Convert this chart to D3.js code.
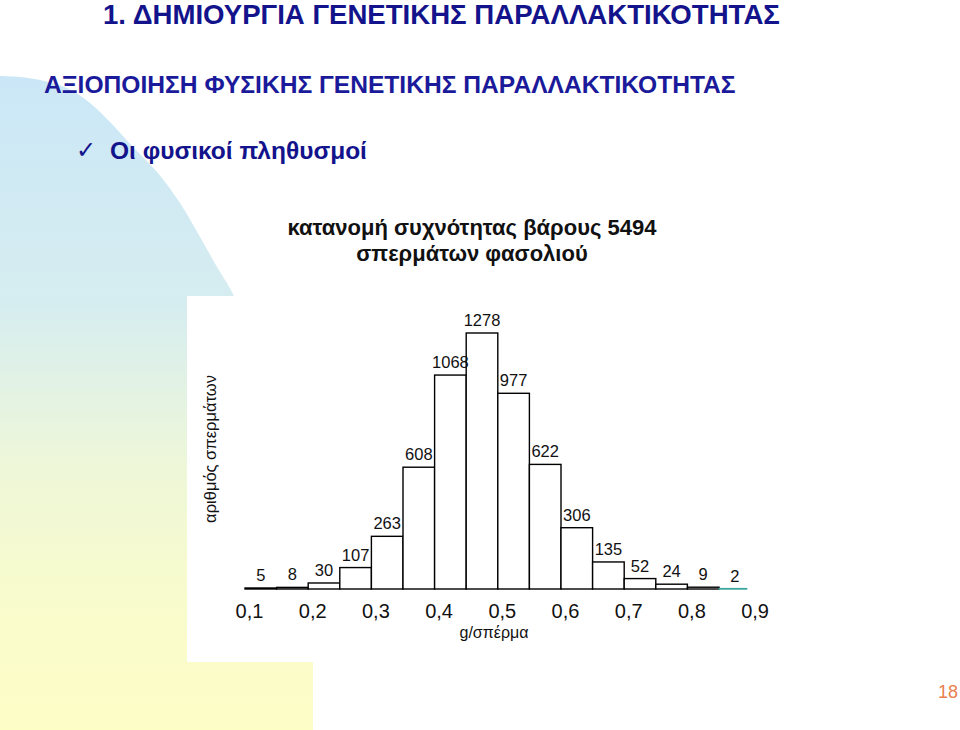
<!DOCTYPE html>
<html>
<head>
<meta charset="utf-8">
<script src="https://cdn.jsdelivr.net/npm/d3@7"></script>
<style>
  body { margin: 0; background: #fff; }
  svg { display: block; font-family: "Liberation Sans", Arial, sans-serif; }
</style>
</head>
<body>
<svg id="slide" width="960" height="730"></svg>
<script>
// data
var binStarts = [0.10, 0.15, 0.20, 0.25, 0.30, 0.35, 0.40, 0.45, 0.50, 0.55, 0.60, 0.65, 0.70, 0.75, 0.80, 0.85];
var counts    = [5, 8, 30, 107, 263, 608, 1068, 1278, 977, 622, 306, 135, 52, 24, 9, 2];
var binWidth  = 0.05;
var tickValues = [0.1, 0.2, 0.3, 0.4, 0.5, 0.6, 0.7, 0.8, 0.9];

var svg = d3.select("#slide");

// background: blue-to-yellow shape on the left
var defs = svg.append("defs");
var grad = defs.append("linearGradient")
    .attr("id", "bgGrad")
    .attr("gradientUnits", "userSpaceOnUse")
    .attr("x1", 0).attr("y1", 75).attr("x2", 0).attr("y2", 730);
grad.append("stop").attr("offset", "0%").attr("stop-color", "#cbe7f7");
grad.append("stop").attr("offset", "35%").attr("stop-color", "#d6edf0");
grad.append("stop").attr("offset", "60%").attr("stop-color", "#eef7d8");
grad.append("stop").attr("offset", "80%").attr("stop-color", "#f8fbcc");
grad.append("stop").attr("offset", "100%").attr("stop-color", "#fdfdc6");

var edge = [[0, 76], [20, 77], [40, 80], [67, 88], [90, 103], [110, 122], [133, 147], [157, 172],
            [180, 203], [200, 237], [217, 267], [233, 294], [255, 350], [280, 430], [300, 520], [313, 620]];
var edgePath = d3.line().curve(d3.curveCatmullRom)(edge);
svg.append("path")
    .attr("d", edgePath + "L313,730L0,730Z")
    .attr("fill", "url(#bgGrad)");

// white panel behind the chart
svg.append("rect")
    .attr("x", 187).attr("y", 296)
    .attr("width", 773).attr("height", 366)
    .attr("fill", "#fff");

// slide texts
svg.append("text")
    .attr("x", 103).attr("y", 23.5)
    .style("font-size", "27.6px").style("font-weight", "bold").style("fill", "#13138c")
    .text("1. ΔΗΜΙΟΥΡΓΙΑ ΓΕΝΕΤΙΚΗΣ ΠΑΡΑΛΛΑΚΤΙΚΟΤΗΤΑΣ");

svg.append("text")
    .attr("x", 44).attr("y", 93)
    .style("font-size", "24.6px").style("font-weight", "bold").style("fill", "#1a1a9a")
    .text("ΑΞΙΟΠΟΙΗΣΗ ΦΥΣΙΚΗΣ ΓΕΝΕΤΙΚΗΣ ΠΑΡΑΛΛΑΚΤΙΚΟΤΗΤΑΣ");

svg.append("text")
    .attr("x", 76).attr("y", 158)
    .style("font-family", "'DejaVu Sans', sans-serif")
    .style("font-size", "24px").style("fill", "#13138c")
    .text("✓");

svg.append("text")
    .attr("x", 110).attr("y", 159)
    .style("font-size", "24.5px").style("font-weight", "bold").style("fill", "#13138c")
    .text("Οι φυσικοί πληθυσμοί");

svg.append("text")
    .attr("x", 472).attr("y", 235)
    .attr("text-anchor", "middle")
    .style("font-size", "22px").style("font-weight", "bold").style("fill", "#111")
    .text("κατανομή συχνότητας βάρους 5494");

svg.append("text")
    .attr("x", 472).attr("y", 261)
    .attr("text-anchor", "middle")
    .style("font-size", "22px").style("font-weight", "bold").style("fill", "#111")
    .text("σπερμάτων φασολιού");

svg.append("text")
    .attr("x", 958).attr("y", 698)
    .attr("text-anchor", "end")
    .style("font-size", "18px").style("fill", "#e8804f")
    .text("18");

// histogram
var x = d3.scaleLinear().domain([0.1, 0.9]).range([245, 750.6]);
var y = d3.scaleLinear().domain([0, d3.max(counts)]).range([589, 333]);

var bins = binStarts.map(function(s, i) { return {x0: s, x1: s + binWidth, value: counts[i], last: i === counts.length - 1}; });

var chart = svg.append("g");

chart.selectAll(".bar")
    .data(bins)
    .enter().append("rect")
    .attr("class", "bar")
    .attr("x", d => x(d.x0))
    .attr("width", d => x(d.x1) - x(d.x0) - (d.last ? 4 : 0))
    .attr("y", d => y(d.value))
    .attr("height", d => y(0) - y(d.value))
    .style("fill", "#fff")
    .style("stroke", d => d.last ? "#3aa59b" : "#000")
    .style("stroke-width", 1.4);

chart.selectAll(".barLabel")
    .data(bins)
    .enter().append("text")
    .attr("class", "barLabel")
    .attr("x", d => (x(d.x0) + x(d.x1)) / 2)
    .attr("y", d => y(d.value) - 7)
    .attr("text-anchor", "middle")
    .style("font-size", "16.5px")
    .style("fill", "#111")
    .text(d => d.value);

// x axis: labels only
var xAxis = chart.append("g")
    .attr("transform", "translate(4,604)")
    .call(d3.axisBottom(x).tickValues(tickValues).tickSize(0).tickPadding(0)
          .tickFormat(d => d3.format(".1f")(d).replace(".", ",")));
xAxis.select(".domain").remove();
xAxis.selectAll("text")
    .attr("dy", "0.71em")
    .style("font-family", "'Liberation Sans', Arial, sans-serif")
    .style("font-size", "20px")
    .style("fill", "#111");

// axis titles
chart.append("text")
    .attr("x", 494).attr("y", 638)
    .attr("text-anchor", "middle")
    .style("font-size", "16px").style("fill", "#111")
    .text("g/σπέρμα");

chart.append("text")
    .attr("transform", "translate(216,449) rotate(-90)")
    .attr("text-anchor", "middle")
    .style("font-size", "16.5px").style("fill", "#111")
    .text("αριθμός σπερμάτων");
</script>
</body>
</html>
